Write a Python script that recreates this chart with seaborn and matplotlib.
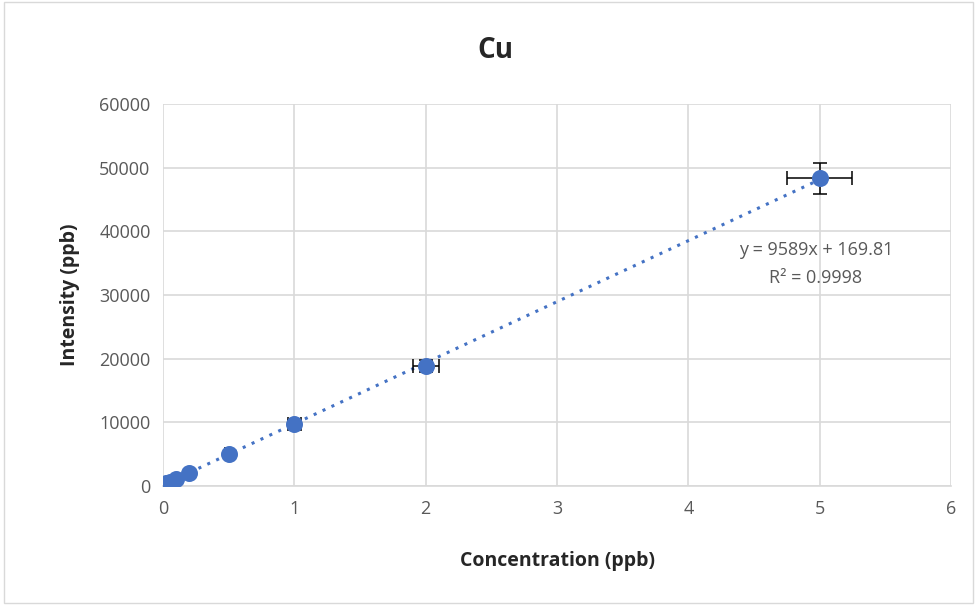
import matplotlib.pyplot as plt
import seaborn as sns
import numpy as np
import pandas as pd

# Calibration data
conc = [0, 0.01, 0.02, 0.05, 0.1, 0.2, 0.5, 1, 2, 5]
intensity = [320, 380, 450, 700, 1100, 2000, 5000, 9800, 18900, 48300]
x_err = [c * 0.05 for c in conc]
y_err = [v * 0.05 for v in intensity]

df = pd.DataFrame({'Concentration': conc, 'Intensity': intensity})

sns.set_style('white')
plt.rcParams['font.family'] = ['Open Sans', 'DejaVu Sans']

fig = plt.figure(figsize=(9.77, 6.05), dpi=100)
ax = fig.add_axes([163 / 977, 1 - 486 / 605, (951 - 163) / 977, (486 - 104) / 605])

blue = '#4472C4'
gray = '#595959'

# trendline
slope, intercept = np.polyfit(conc, intensity, 1)
xs = np.array([0, 5])
ax.plot(xs, slope * xs + intercept, linestyle=(0, (1, 2.2)), color=blue, linewidth=2.2, zorder=2)

ax.errorbar(conc, intensity, xerr=x_err, yerr=y_err, fmt='none', ecolor='black',
            elinewidth=1.1, capsize=5, capthick=1.1, zorder=3)
sns.scatterplot(data=df, x='Concentration', y='Intensity', color=blue, s=150,
                edgecolor=blue, linewidth=0, ax=ax, zorder=4)

ax.set_xlim(0, 6)
ax.set_ylim(0, 60000)
ax.set_xticks(range(0, 7))
ax.set_yticks(range(0, 60001, 10000))
ax.grid(True, color='#D9D9D9', linewidth=1.2)
ax.set_axisbelow(True)
for s in ['top', 'right', 'left']:
    ax.spines[s].set_visible(False)
ax.spines['bottom'].set_color('#D9D9D9')
ax.spines['bottom'].set_linewidth(1.2)
ax.tick_params(axis='both', colors=gray, labelsize=13, length=0)
ax.tick_params(axis='x', pad=10)
ax.tick_params(axis='y', pad=9)

ax.set_xlabel('Concentration (ppb)', fontsize=14, fontweight='bold', labelpad=24)
ax.set_ylabel('Intensity (ppb)', fontsize=14, fontweight='bold', labelpad=14)
fig.text(495 / 977, 1 - 50 / 605, 'Cu', ha='center', va='center', fontsize=20, fontweight='bold')

ax.text(4.97, 34900, 'y = 9589x + 169.81\nR² = 0.9998', ha='center', va='center',
        fontsize=13, color=gray, linespacing=1.75)

# outer chart border
fig.patches.append(plt.Rectangle((0.004, 0.004), 0.992, 0.992, transform=fig.transFigure,
                                 fill=False, edgecolor='#D9D9D9', linewidth=1))

fig.savefig('out.png', dpi=100)
